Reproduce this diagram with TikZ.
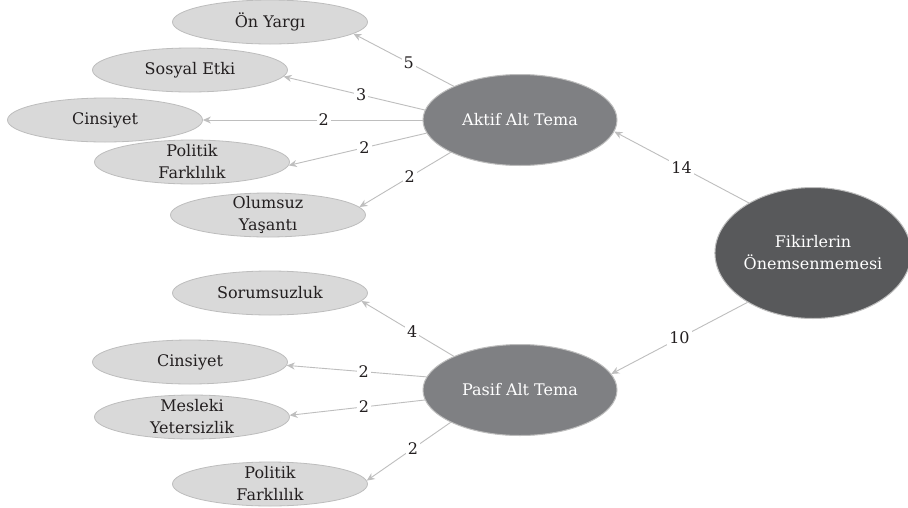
\documentclass[tikz,border=0pt]{standalone}
\usepackage{fontspec}
\setmainfont{DejaVu Serif}
\usetikzlibrary{shapes.geometric,arrows.meta}
\definecolor{lightfill}{HTML}{D9D9D9}
\definecolor{lightborder}{HTML}{BDBDBD}
\definecolor{midfill}{HTML}{7F8083}
\definecolor{darkfill}{HTML}{58595B}
\definecolor{edgecol}{HTML}{BEBEBE}
\definecolor{txt}{HTML}{231F20}
\tikzset{
  leaf/.style={ellipse, draw=lightborder, line width=0.8pt, fill=lightfill, text=txt,
    minimum width=195pt, minimum height=44pt, inner xsep=0pt, inner ysep=-9pt, align=center,
    font=\fontsize{16}{22}\selectfont},
  sub/.style={ellipse, draw=lightborder, line width=1pt, fill=midfill, text=white,
    minimum width=194pt, minimum height=91pt, inner sep=0pt, align=center,
    font=\fontsize{16}{22}\selectfont},
  root/.style={ellipse, draw=lightborder, line width=1pt, fill=darkfill, text=white,
    minimum width=187pt, minimum height=131pt, inner sep=0pt, align=center,
    font=\fontsize{16}{22}\selectfont},
  link/.style={draw=edgecol, line width=0.9pt, -{Stealth[length=8pt,width=7pt]}},
  num/.style={fill=white, text=txt, inner sep=2pt, font=\fontsize{16}{22}\selectfont, pos=0.45},
}
\begin{document}
\begin{tikzpicture}[x=1pt,y=-1pt]
\useasboundingbox (0,0) rectangle (908,507);
\fill[white] (0,0) rectangle (908,507);
% nodes
\node[root] (fik) at (813,253) {Fikirlerin\\Önemsenmemesi};
\node[sub] (aktif) at (520,120) {Aktif Alt Tema};
\node[sub] (pasif) at (520,390) {Pasif Alt Tema};
\node[leaf] (onyargi) at (270,22) {Ön Yargı};
\node[leaf] (sosyal) at (190,70) {Sosyal Etki};
\node[leaf] (cins1) at (105,120) {Cinsiyet};
\node[leaf] (pol1) at (192,162) {Politik\\Farklılık};
\node[leaf] (olum) at (268,215) {Olumsuz\\Yaşantı};
\node[leaf] (sorum) at (270,293) {Sorumsuzluk};
\node[leaf] (cins2) at (190,362) {Cinsiyet};
\node[leaf] (mesl) at (192,417) {Mesleki\\Yetersizlik};
\node[leaf] (pol2) at (270,484) {Politik\\Farklılık};
% edges
\draw[link] (fik.142) -- node[num,pos=0.5] {14} (aktif.-7);
\draw[link] (fik.217) -- node[num,pos=0.5] {10} (pasif.10);
\draw[link] (aktif.153) -- node[num] {5} (onyargi.-8);
\draw[link] (aktif.174) -- node[num] {3} (sosyal.-4);
\draw[link] (aktif.west) -- node[num] {2} (cins1.east);
\draw[link] (aktif.188) -- node[num] {2} (pol1.-2);
\draw[link] (aktif.205) -- node[num] {2} (olum.5);
\draw[link] (pasif.153) -- node[num] {4} (sorum.-5);
\draw[link] (pasif.172) -- node[num] {2} (cins2.-2);
\draw[link] (pasif.186) -- node[num] {2} (mesl.1);
\draw[link] (pasif.205) -- node[num] {2} (pol2.2);
\end{tikzpicture}
\end{document}
